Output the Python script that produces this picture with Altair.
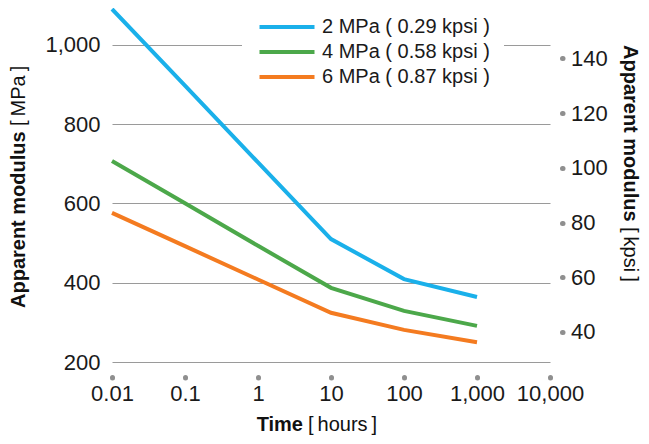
import altair as alt
import pandas as pd

times = [0.01, 0.1, 1, 10, 100, 1000]
series_names = ["2 MPa ( 0.29 kpsi )", "4 MPa ( 0.58 kpsi )", "6 MPa ( 0.87 kpsi )"]
mpa_2 = [1090, 897, 703, 510, 409, 364]
mpa_4 = [707, 600, 493, 387, 329, 291]
mpa_6 = [576, 492, 408, 324, 281, 250]
colors = ["#1AB0EA", "#4CA84A", "#F47B20"]
x_ticks = [0.01, 0.1, 1, 10, 100, 1000, 10000]
y_ticks = [200, 400, 600, 800, 1000]
kpsi_ticks = [40, 60, 80, 100, 120, 140]
MPA_PER_KPSI = 6.8948

rows = []
for name, vals in zip(series_names, [mpa_2, mpa_4, mpa_6]):
    for t, v in zip(times, vals):
        rows.append({"time": t, "mpa": v, "series": name})
df = pd.DataFrame(rows)

y_dom = [200, 1090]
FONT = "Liberation Sans"

x_scale = alt.Scale(type="log", domain=[0.01, 10000], nice=False)
x_axis = alt.Axis(values=x_ticks, labelExpr="format(datum.value, ',~g')", title=None, grid=False,
                  domain=False, offset=15, tickSize=0.5, tickWidth=5,
                  tickCap="round", tickColor="#8f8f8f", labelPadding=6,
                  labelFontSize=22, labelColor="#1a1a1a", labelFont=FONT,
                  labelFlush=False)
x_enc = alt.X("time:Q", scale=x_scale, axis=x_axis)

lines = alt.Chart(df).mark_line(strokeWidth=4, clip=False).encode(
    x=x_enc,
    y=alt.Y("mpa:Q", scale=alt.Scale(domain=y_dom, nice=False, zero=False),
            axis=alt.Axis(values=y_ticks, labelExpr="format(datum.value, ',')", title=None,
                          grid=True, gridColor="#9a9a9a", gridWidth=1.2, domain=False,
                          ticks=False, labelPadding=12, labelFontSize=22,
                          labelColor="#1a1a1a", labelFont=FONT, orient="left")),
    color=alt.Color("series:N", scale=alt.Scale(domain=series_names, range=colors),
                    legend=alt.Legend(title=None, orient="none", legendX=130, legendY=-8,
                                      fillColor="white", padding=14, symbolType="M-2.75,0H2.75",
                                      symbolSize=400, symbolStrokeWidth=4, symbolOffset=19,
                                      labelFontSize=20, labelFont=FONT, labelColor="#1a1a1a",
                                      labelOffset=23, labelLimit=400, rowPadding=3)),
)

right = alt.Chart(df).transform_calculate(kpsi=f"datum.mpa / {MPA_PER_KPSI}").mark_line(opacity=0).encode(
    x=x_enc,
    y=alt.Y("kpsi:Q", scale=alt.Scale(domain=[y_dom[0] / MPA_PER_KPSI, y_dom[1] / MPA_PER_KPSI],
                                      nice=False, zero=False),
            axis=alt.Axis(values=kpsi_ticks, title=None, grid=False, domain=False, orient="right",
                          offset=12, tickSize=0.5, tickWidth=5, tickCap="round",
                          tickColor="#8f8f8f", labelPadding=8, labelFontSize=22,
                          labelColor="#1a1a1a", labelFont=FONT)),
    detail="series:N",
)

def label(text, x, y, angle, align, bold):
    return alt.Chart(pd.DataFrame({"t": [text]})).mark_text(
        angle=angle, align=align, baseline="middle", fontSize=20, font=FONT,
        fontWeight="bold" if bold else "normal", color="#111111"
    ).encode(text="t:N", x=alt.value(x), y=alt.value(y))

titles = [
    label("Apparent modulus", -93, 299, 270, "left", True),
    label("[\u2009MPa\u2009]", -93, 117, 270, "left", False),
    label("Apparent modulus", 518, 36, 90, "left", True),
    label("[\u2009kpsi\u2009]", 518, 218, 90, "left", False),
    label("Time", 191, 416, 0, "right", True),
    label("[\u2009hours\u2009]", 196, 416, 0, "left", False),
]

chart = alt.layer(lines, right, *titles).resolve_scale(y="independent").properties(
    width=438, height=353,
    autosize=alt.AutoSizeParams(type="none"),
    padding={"left": 104, "top": 1, "right": 91, "bottom": 74},
).configure_view(stroke=None)

chart.save("out.html", embed_options={"renderer": "svg", "actions": False})
